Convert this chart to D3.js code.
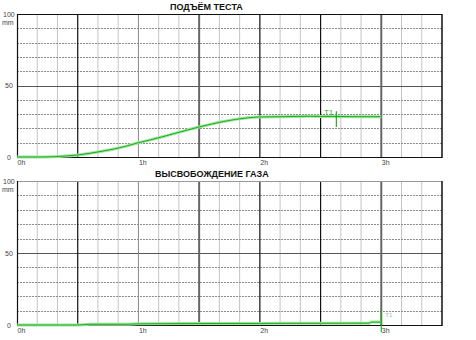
<!DOCTYPE html>
<html>
<head>
<meta charset="utf-8">
<script src="https://cdn.jsdelivr.net/npm/d3@7"></script>
<style>
  body { margin: 0; background: #fff; }
  svg { display: block; font-family: "Liberation Sans", Arial, sans-serif; }
</style>
</head>
<body>
<svg id="chart" width="476" height="340"></svg>
<script>
// data (hours, mm)
const doughHours = [0, 0.1, 0.2, 0.3, 0.4, 0.5, 0.6, 0.7, 0.8, 0.9, 1.0, 1.1, 1.2, 1.3, 1.4, 1.5, 1.6, 1.7, 1.8, 1.9, 2.0, 2.2, 2.4, 2.6, 2.8, 3.0];
const doughRise  = [0, 0, 0, 0.2, 0.7, 1.4, 2.6, 4.0, 5.6, 7.6, 10, 12, 14.2, 16.5, 18.8, 21, 23, 24.8, 26.3, 27.4, 28, 28.2, 28.5, 28.3, 28.2, 28.2];
const gasHours   = [0, 0.5, 0.6, 0.9, 1.0, 1.5, 2.0, 2.5, 2.9, 2.92, 3.0];
const gasRelease = [0, 0, 0.5, 0.5, 0.8, 1.0, 1.1, 1.2, 1.3, 2.0, 2.0];
const markerT1   = [{ hour: 2.63, lo: 21, hi: 32 }, { hour: 3.0, lo: -5, hi: 10 }];
const xTickLabels = ["0h", "1h", "2h", "3h"];
const yTickLabels = [0, 50, 100];

const svg = d3.select("#chart");

const panels = [
  { title: "ПОДЪЁМ ТЕСТА", titleX: 170, top: 14, bottom: 157, xs: doughHours, ys: doughRise, marker: markerT1[0], topBorder: "#111" },
  { title: "ВЫСВОБОЖДЕНИЕ ГАЗА", titleX: 155, top: 181, bottom: 325, xs: gasHours, ys: gasRelease, marker: markerT1[1], topBorder: "#999" }
];

const left = 17, right = 442;
const x = d3.scaleLinear().domain([0, 3.5]).range([left, right]);

// look of the half-hour lines, as seen in the picture
function majorStyle(h) {
  if (h === 1) return { c: "#8a8a8a", w: 1 };
  if (h === 1.5 || h === 3) return { c: "#666", w: 2 };
  return { c: "#111", w: 1.2 };
}

panels.forEach((p, pi) => {
  const y = d3.scaleLinear().domain([0, 100]).range([p.bottom, p.top]);
  const g = svg.append("g");

  // minor vertical grid, every 10 min
  const minor = d3.range(1, 21).map(i => i / 6).filter(h => Math.abs(h * 2 - Math.round(h * 2)) > 1e-6);
  g.selectAll(".vmin").data(minor).join("line")
    .attr("x1", d => x(d)).attr("x2", d => x(d))
    .attr("y1", p.top).attr("y2", p.bottom)
    .attr("stroke", "#c4c4c4").attr("stroke-width", 1);

  // horizontal grid, every 10 mm
  g.selectAll(".hgrid").data(d3.range(10, 100, 10)).join("line")
    .attr("x1", left).attr("x2", right)
    .attr("y1", d => Math.round(y(d)) + 0.5).attr("y2", d => Math.round(y(d)) + 0.5)
    .attr("stroke", d => d === 50 ? "#555" : "#8c8c8c")
    .attr("stroke-width", 1)
    .attr("stroke-dasharray", d => d === 50 ? null : "2,1");

  // half-hour lines
  g.selectAll(".vmaj").data([0.5, 1, 1.5, 2, 2.5, 3]).join("line")
    .attr("x1", d => x(d)).attr("x2", d => x(d))
    .attr("y1", p.top).attr("y2", p.bottom)
    .attr("stroke", d => majorStyle(d).c)
    .attr("stroke-width", d => majorStyle(d).w);

  // frame
  g.append("line").attr("x1", left).attr("x2", right).attr("y1", p.top + 0.5).attr("y2", p.top + 0.5)
    .attr("stroke", p.topBorder).attr("stroke-width", 1.2);
  g.append("line").attr("x1", left).attr("x2", right).attr("y1", p.bottom + 0.5).attr("y2", p.bottom + 0.5)
    .attr("stroke", "#111").attr("stroke-width", 1.2);
  g.append("line").attr("x1", left + 0.5).attr("x2", left + 0.5).attr("y1", p.top).attr("y2", p.bottom)
    .attr("stroke", "#111").attr("stroke-width", 1.2);
  g.append("line").attr("x1", right).attr("x2", right).attr("y1", p.top).attr("y2", p.bottom + 1)
    .attr("stroke", "#111").attr("stroke-width", 1.5);

  // title
  g.append("text").attr("x", p.titleX).attr("y", p.top - 4)
    .attr("font-size", 9).attr("font-weight", "bold").attr("fill", "#111")
    .text(p.title);

  // y labels
  g.selectAll(".ylab").data(yTickLabels).join("text")
    .attr("x", d => d === 100 ? 3 : (d === 50 ? 5 : 7))
    .attr("y", d => y(d) + 2.5)
    .attr("font-size", 7).attr("fill", "#444")
    .text(d => d);
  g.append("text").attr("x", 2).attr("y", y(100) + 11)
    .attr("font-size", 7).attr("fill", "#444").text("mm");

  // x labels
  g.selectAll(".xlab").data(xTickLabels).join("text")
    .attr("x", (d, i) => x(i) + 0.5)
    .attr("y", p.bottom + 8)
    .attr("font-size", 7).attr("fill", "#444")
    .text(d => d);

  // curve
  const pts = p.xs.map((h, i) => [h, p.ys[i]]);
  const line = d3.line().x(d => x(d[0])).y(d => y(d[1])).curve(d3.curveMonotoneX);
  g.append("path").datum(pts).attr("d", line)
    .attr("fill", "none").attr("stroke", "#9be89b").attr("stroke-width", 3);
  g.append("path").datum(pts).attr("d", line)
    .attr("fill", "none").attr("stroke", "#22a822").attr("stroke-width", 1);

  // T1 marker
  const m = p.marker;
  g.append("line")
    .attr("x1", x(m.hour)).attr("x2", x(m.hour))
    .attr("y1", y(m.lo)).attr("y2", y(m.hi))
    .attr("stroke", "#22b022").attr("stroke-width", 1.2);
  g.append("text")
    .attr("x", pi === 0 ? x(m.hour) - 12 : x(m.hour) + 4)
    .attr("y", pi === 0 ? y(m.hi) + 4 : y(m.hi) + 6)
    .attr("font-size", pi === 0 ? 7.5 : 6)
    .attr("fill", pi === 0 ? "#33a833" : "#88cc88")
    .text("T1");
});
</script>
</body>
</html>
